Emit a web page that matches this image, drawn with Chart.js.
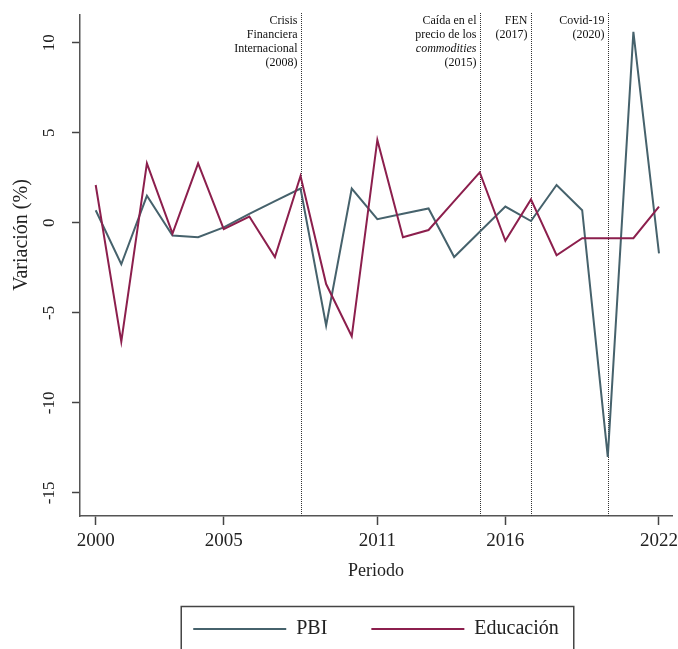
<!DOCTYPE html>
<html>
<head>
<meta charset="utf-8">
<script src="https://cdn.jsdelivr.net/npm/chart.js@4.4.1/dist/chart.umd.min.js"></script>
<style>
  html, body { margin: 0; padding: 0; background: #fff; }
</style>
</head>
<body>
<canvas id="chart" width="678" height="649"></canvas>
<script>
const years = [2000, 2001, 2002, 2003, 2004, 2005, 2006, 2007, 2008, 2009, 2010, 2011,
  2012, 2013, 2014, 2015, 2016, 2017, 2018, 2019, 2020, 2021, 2022];
const pbi = [0.7, -2.3, 1.5, -0.7, -0.8, -0.25, 0.5, 1.2, 1.9, -5.7, 1.9, 0.2,
  0.5, 0.8, -1.9, -0.5, 0.9, 0.1, 2.1, 0.7, -13.0, 10.6, -1.7];
const educacion = [2.1, -6.6, 3.3, -0.6, 3.3, -0.35, 0.35, -1.9, 2.6, -3.4, -6.3, 4.6,
  -0.8, -0.4, 1.2, 2.8, -1.0, 1.3, -1.8, -0.85, -0.85, -0.85, 0.9];

const xTickValues = [2000, 2005, 2011, 2016, 2022];
const yTickValues = [-15, -10, -5, 0, 5, 10];

const eventYears = [2008, 2015, 2017, 2020];
const eventLabels = [
  ['Crisis', 'Financiera', 'Internacional', '(2008)'],
  ['Caída en el', 'precio de los', 'commodities', '(2015)'],
  ['FEN', '(2017)'],
  ['Covid-19', '(2020)']
];

const SERIF = "'Liberation Serif', 'Times New Roman', serif";
Chart.defaults.font.family = SERIF;
Chart.defaults.color = '#222';

// lineas punteadas de eventos + textos
const eventLines = {
  id: 'eventLines',
  beforeDatasetsDraw(chart) {
    const { ctx, chartArea, scales: { x } } = chart;
    ctx.save();
    eventYears.forEach((yr, i) => {
      const px = Math.round(x.getPixelForValue(yr)) + 0.5;
      ctx.strokeStyle = '#333';
      ctx.lineWidth = 1;
      ctx.setLineDash([1, 1]);
      ctx.beginPath();
      ctx.moveTo(px, chartArea.top - 2);
      ctx.lineTo(px, chartArea.bottom);
      ctx.stroke();
      ctx.setLineDash([]);
      ctx.fillStyle = '#111';
      ctx.textAlign = 'right';
      ctx.textBaseline = 'middle';
      eventLabels[i].forEach((t, j) => {
        ctx.font = (t === 'commodities' ? 'italic ' : '') + '12px ' + SERIF;
        ctx.fillText(t, px - 4, chartArea.top + 6 + j * 13.8);
      });
    });
    ctx.restore();
  }
};

// titulo eje Y (desplazado hacia arriba como en el original) y marco de la leyenda
const extras = {
  id: 'extras',
  afterDraw(chart) {
    const { ctx } = chart;
    ctx.save();
    ctx.translate(22, 235);
    ctx.rotate(-Math.PI / 2);
    ctx.font = '20px ' + SERIF;
    ctx.fillStyle = '#222';
    ctx.textAlign = 'center';
    ctx.textBaseline = 'middle';
    ctx.fillText('Variación (%)', 0, 0);
    ctx.restore();

    const boxes = chart.legend.legendHitBoxes;
    if (boxes && boxes.length) {
      const first = boxes[0], last = boxes[boxes.length - 1];
      const left = first.left - 12;
      const right = last.left + last.width + 15;
      const top = first.top - 12.5;
      ctx.save();
      ctx.strokeStyle = '#444';
      ctx.lineWidth = 1.5;
      ctx.strokeRect(left, top, right - left, 80);
      ctx.restore();
    }
  }
};

new Chart(document.getElementById('chart'), {
  type: 'line',
  data: {
    datasets: [
      {
        label: 'PBI',
        data: years.map((y, i) => ({ x: y, y: pbi[i] })),
        borderColor: '#46626c',
        backgroundColor: '#46626c',
        borderWidth: 2,
        pointRadius: 0,
        tension: 0,
        order: 1
      },
      {
        label: 'Educación',
        data: years.map((y, i) => ({ x: y, y: educacion[i] })),
        borderColor: '#8c1f4d',
        backgroundColor: '#8c1f4d',
        borderWidth: 2,
        pointRadius: 0,
        tension: 0,
        order: 0
      }
    ]
  },
  options: {
    responsive: false,
    animation: false,
    layout: { padding: { top: 15, right: 6, left: 0, bottom: 0 } },
    plugins: {
      tooltip: { enabled: false },
      legend: {
        position: 'bottom',
        fullSize: false,
        labels: {
          boxWidth: 93,
          boxHeight: 2,
          padding: 44,
          color: '#222',
          font: { size: 20 },
          sort: (a, b) => a.datasetIndex - b.datasetIndex,
          generateLabels(chart) {
            const items = Chart.defaults.plugins.legend.labels.generateLabels(chart);
            items.forEach(it => { it.fillStyle = it.strokeStyle; it.lineWidth = 0; });
            return items;
          }
        }
      }
    },
    scales: {
      x: {
        type: 'linear',
        min: 1999.387,
        max: 2022.508,
        afterBuildTicks: scale => { scale.ticks = xTickValues.map(v => ({ value: v })); },
        afterFit: scale => { scale.height = 59; scale.paddingLeft = 0; scale.paddingRight = 0; },
        grid: { display: true, drawOnChartArea: false, drawTicks: true, tickLength: 9, tickColor: '#444', tickWidth: 1.5 },
        border: { display: true, color: '#555', width: 1.5 },
        ticks: { padding: 5, color: '#222', font: { size: 19 }, maxRotation: 0, autoSkip: false, callback: v => String(v) },
        title: { display: true, text: 'Periodo', color: '#222', font: { size: 18 }, padding: { top: 0, bottom: -7 } }
      },
      y: {
        type: 'linear',
        min: -16.28,
        max: 11.54,
        afterBuildTicks: scale => { scale.ticks = yTickValues.map(v => ({ value: v })); },
        afterFit: scale => { scale.width = 80; scale.paddingTop = 0; scale.paddingBottom = 0; },
        grid: { display: true, drawOnChartArea: false, drawTicks: true, tickLength: 8, tickColor: '#444', tickWidth: 1.5 },
        border: { display: true, color: '#555', width: 1.5 },
        ticks: { padding: 11, color: '#222', font: { size: 17 }, minRotation: 90, maxRotation: 90, crossAlign: 'center' }
      }
    }
  },
  plugins: [eventLines, extras]
});
</script>
</body>
</html>
